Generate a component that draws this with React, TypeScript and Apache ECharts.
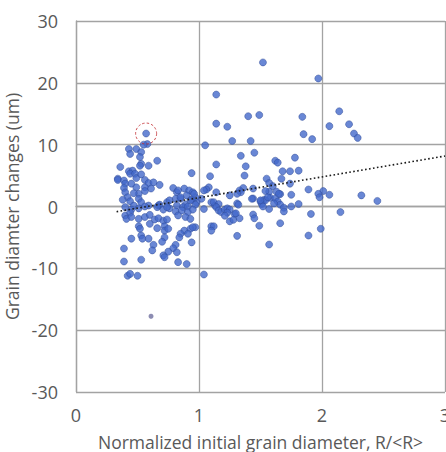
import React, { useEffect, useRef } from "react";
import * as echarts from "echarts";

// Normalized initial grain diameter R/<R> vs. change in grain diameter (um)
const grainPoints: [number, number][] = [
  // upper scatter
  [1.52, 23.3], [1.97, 20.7], [1.14, 18.1], [1.40, 14.6], [1.49, 14.8], [1.14, 13.4],
  [1.23, 12.9], [0.57, 11.8], [1.27, 10.6], [1.42, 10.6], [1.05, 9.9], [1.45, 8.7],
  [1.34, 8.2], [1.14, 6.8], [1.38, 6.5], [1.09, 4.9], [1.37, 5.0], [0.94, 5.4],
  [2.14, 15.4], [2.06, 13.0], [2.22, 13.3], [2.26, 11.8], [2.29, 11.1], [1.84, 14.5],
  [1.85, 11.7], [1.92, 10.9], [1.78, 7.9], [1.62, 7.4], [1.64, 7.1], [1.68, 5.7],
  [1.74, 5.7], [1.81, 5.8], [1.67, 4.5], [1.74, 3.7], [1.55, 4.5], [1.57, 3.8],
  [1.60, 3.3], [1.44, 2.9], [1.57, 2.4], [1.66, 2.0], [1.75, 1.9], [1.89, 2.75],
  [2.01, 2.5], [1.97, 2.05], [1.98, 1.5], [2.06, 1.9], [2.32, 1.8], [2.45, 0.9],
  // right-hand band around zero
  [1.44, 1.3], [1.50, 0.8], [1.53, 1.1], [1.51, 0.4], [1.58, 1.4], [1.62, 1.3],
  [1.64, 0.8], [1.66, 0.3], [1.69, -0.2], [1.69, -0.8], [1.75, 0.0], [1.81, 0.4],
  [1.57, -0.4], [1.44, -1.3], [1.45, -1.9], [1.49, -3.1], [1.66, -2.7], [1.91, -1.2],
  [2.15, -0.9], [1.99, -3.6], [1.89, -4.7], [1.57, -6.15],
  [1.08, 3.1], [1.06, 2.75], [1.14, 2.3], [1.36, 3.0], [1.33, 2.6], [1.34, 2.3],
  [1.31, 2.05], [1.54, 2.5], [1.63, 2.4], [1.65, 2.05], [1.25, 1.8], [1.02, 1.25],
  [0.98, 0.65], [1.43, 1.25], [1.54, 1.0], [1.61, 0.5], [1.10, 0.7], [1.13, 0.15],
  [1.31, 0.5], [1.32, 0.3], [1.04, 2.6], [1.12, 0.7], [1.16, 0.4], [1.50, 1.0], [1.56, 1.5],
  [1.04, -0.4], [1.14, -0.1], [1.16, -0.65], [1.18, -0.9], [1.21, -0.5], [1.23, -0.3],
  [1.25, -0.5], [1.23, -1.0], [1.29, -1.2], [1.52, 0.0], [1.21, -1.5], [1.25, -2.4],
  [1.28, -2.15], [1.33, -1.9], [1.30, -1.1], [1.10, -3.2], [1.12, -3.2], [1.10, -3.9],
  [1.31, -4.75], [1.04, -11.0], [0.97, -3.35],
  // left cluster, positive side
  [0.36, 6.4], [0.34, 4.5], [0.43, 9.3], [0.49, 9.3], [0.53, 8.8], [0.44, 8.5],
  [0.52, 8.0], [0.58, 10.1], [0.55, 10.0], [0.79, 3.0], [0.68, 3.5], [0.66, 7.4],
  [0.59, 6.6], [0.53, 6.9], [0.52, 6.6], [0.43, 5.7], [0.46, 5.8], [0.44, 5.3],
  [0.48, 5.3], [0.49, 4.6], [0.53, 5.2], [0.34, 4.3], [0.39, 4.2], [0.40, 3.7],
  [0.39, 3.0], [0.40, 2.3], [0.42, 1.5], [0.38, 1.1], [0.56, 4.3], [0.59, 3.8],
  [0.63, 3.9], [0.56, 3.1], [0.61, 2.9], [0.56, 2.5], [0.51, 2.05], [0.49, 3.1],
  [0.45, 3.7], [0.47, 2.15], [0.51, 1.25], [0.53, 0.7], [0.44, 0.85], [0.47, 0.15],
  [0.82, 2.3], [0.88, 2.9], [0.92, 2.6], [0.95, 2.3], [0.90, 1.8], [0.97, 1.5],
  [0.94, 1.1], [0.85, 1.25], [0.81, 1.25], [0.74, 0.7], [0.67, 0.15], [0.89, 0.3],
  [0.97, 0.3], [0.59, 0.15], [0.83, 2.6], [0.96, 2.05], [0.85, 1.5], [0.93, 1.0],
  [0.82, 0.15], [0.87, -0.1], [0.91, 0.0], [0.76, 1.0], [0.68, 0.3],
  // left cluster, negative side
  [0.40, -0.1], [0.45, -0.5], [0.51, -0.3], [0.56, 0.0], [0.66, -0.1], [0.71, -0.5],
  [0.76, -0.3], [0.81, -0.8], [0.86, -0.65], [0.91, -0.9], [0.95, -0.5], [0.83, -1.45],
  [0.89, -1.7], [0.93, -2.0], [0.74, -0.1], [0.40, -1.45], [0.44, -1.0], [0.41, -2.0],
  [0.45, -1.7], [0.51, -2.0], [0.56, -1.7], [0.60, -1.35], [0.64, -2.1], [0.67, -1.9],
  [0.71, -2.3], [0.74, -2.1], [0.51, -3.2], [0.52, -3.6], [0.60, -2.8], [0.66, -3.5],
  [0.72, -3.2], [0.72, -3.9], [0.75, -3.6], [0.88, -3.9], [0.93, -3.6], [0.95, -3.35],
  [0.85, -4.4], [0.91, -4.4], [0.84, -5.0], [0.53, -4.7], [0.54, -5.2], [0.45, -5.2],
  [0.59, -5.2], [0.72, -5.0], [0.70, -5.7], [0.63, -6.2], [0.81, -6.2], [0.79, -6.75],
  [0.94, -5.8], [0.39, -6.8], [0.62, -7.1], [0.75, -7.3], [0.71, -7.9], [0.72, -8.2],
  [0.82, -7.4], [0.83, -9.0], [0.90, -9.3], [0.39, -8.9], [0.53, -8.6], [0.42, -11.2],
  [0.44, -10.9], [0.50, -11.2],
];

// lone low outlier, drawn smaller and fainter
const faintPoints: [number, number][] = [[0.61, -17.75]];

// grain singled out with a dashed ring
const highlightedGrain: [number, number][] = [[0.57, 11.8]];

// linear trend line
const trendSlope = 3.37;
const trendIntercept = -1.95;
const trendRange: [number, number] = [0.33, 3.0];

const xTicks = { min: 0, max: 3, interval: 1 };
const yTicks = { min: -30, max: 30, interval: 10 };

const FONT = "'Open Sans', 'Noto Sans', sans-serif";
const TEXT = "#595959";
const GRID = "#a3a3a3";

export default function App() {
  const ref = useRef<HTMLDivElement>(null);

  useEffect(() => {
    if (!ref.current) return;
    const chart = echarts.init(ref.current, undefined, { renderer: "svg" });

    const trendData = trendRange.map((x) => [x, trendSlope * x + trendIntercept]);

    chart.setOption({
      animation: false,
      backgroundColor: "#ffffff",
      grid: {
        left: 76,
        right: 1,
        top: 21,
        bottom: 60,
        containLabel: false,
        outerBoundsMode: "none",
      },
      xAxis: {
        type: "value",
        ...xTicks,
        name: "Normalized initial grain diameter, R/<R>",
        nameLocation: "middle",
        nameGap: 41,
        nameTextStyle: { fontFamily: FONT, fontSize: 17.5, color: TEXT },
        axisLine: { show: true, lineStyle: { color: GRID, width: 1.3 } },
        axisTick: { show: false },
        axisLabel: { fontFamily: FONT, fontSize: 18, color: TEXT, margin: 14 },
        splitLine: { show: true, lineStyle: { color: GRID, width: 1.3 } },
      },
      yAxis: {
        type: "value",
        ...yTicks,
        name: "Grain diamter changes (um)",
        nameLocation: "middle",
        nameGap: 44,
        nameTextStyle: { fontFamily: FONT, fontSize: 17.5, color: TEXT },
        axisLine: { show: true, lineStyle: { color: GRID, width: 1.3 } },
        axisTick: { show: false },
        axisLabel: { fontFamily: FONT, fontSize: 18, color: TEXT, margin: 18 },
        splitLine: { show: true, lineStyle: { color: GRID, width: 1.3 } },
      },
      series: [
        {
          type: "scatter",
          data: grainPoints,
          symbolSize: 7,
          itemStyle: { color: "#4369cb", borderColor: "#2f4a96", borderWidth: 0.6 },
          z: 3,
        },
        {
          type: "scatter",
          data: faintPoints,
          symbolSize: 5,
          itemStyle: { color: "#6f6f9f" },
          z: 3,
        },
        {
          type: "line",
          data: trendData,
          symbol: "none",
          lineStyle: { color: "#1a1a1a", width: 1.6, type: [1.6, 2.4] },
          z: 4,
        },
        {
          type: "scatter",
          data: highlightedGrain,
          symbolSize: 21,
          itemStyle: {
            color: "transparent",
            borderColor: "#c0282d",
            borderWidth: 1,
            borderType: [2.5, 2],
          },
          z: 5,
        },
      ],
    });

    return () => chart.dispose();
  }, []);

  return (
    <div
      ref={ref}
      style={{ position: "fixed", left: 0, top: 0, width: 446, height: 452 }}
    />
  );
}
